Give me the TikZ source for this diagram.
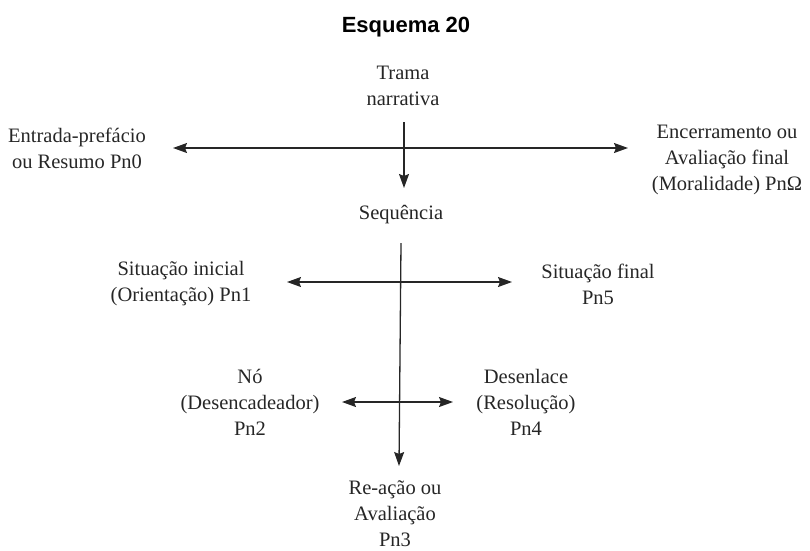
\documentclass[tikz,border=0pt]{standalone}
\usepackage{fontspec}
\setmainfont{Liberation Serif}
\newfontfamily\titlefont{Liberation Sans}
\usetikzlibrary{arrows.meta}
\begin{document}
\begin{tikzpicture}[x=1pt,y=-1pt,
  lbl/.style={align=center,inner sep=0pt,font=\fontsize{20.5}{26}\selectfont,text=black!85},
  conn/.style={line width=1.3pt,black!85},
  tip/.style={-{Stealth[length=14pt,width=10pt,inset=2pt]}},
  tips/.style={{Stealth[length=14pt,width=10pt,inset=2pt]}-{Stealth[length=14pt,width=10pt,inset=2pt]}}]
\useasboundingbox (0,0) rectangle (810,550);
\node (title) at (406,27) {\titlefont\bfseries\fontsize{22}{26}\selectfont Esquema 20};
\node[lbl] (trama) at (403,86) {Trama\\narrativa};
\node[lbl] (entrada) at (77,148) {Entrada-prefácio\\ou Resumo Pn0};
\node[lbl] (encerr) at (727,160) {Encerramento ou\\Avaliação final\\(Moralidade) PnΩ};
\node[lbl] (seq) at (401,215) {Sequência};
\node[lbl] (sitini) at (181,284) {Situação inicial\\(Orientação) Pn1};
\node[lbl] (sitfin) at (598,284) {Situação final\\Pn5};
\node[lbl] (no) at (250,402) {Nó\\(Desencadeador)\\Pn2};
\node[lbl] (desen) at (526,402) {Desenlace\\(Resolução)\\Pn4};
\node[lbl] (reacao) at (395,514) {Re-ação ou\\Avaliação\\Pn3};
% connector end points
\coordinate (v1a) at (404,122);
\coordinate (v1b) at (404,188);
\coordinate (h1a) at (173,148);
\coordinate (h1b) at (628,148);
\coordinate (v2a) at (401,243);
\coordinate (v2b) at (399,466);
\coordinate (h2a) at (287,282);
\coordinate (h2b) at (512,282);
\coordinate (h3a) at (342,402);
\coordinate (h3b) at (453,402);
\draw[conn,tip] (v1a) -- (v1b);
\draw[conn,tips] (h1a) -- (h1b);
\draw[conn,tip] (v2a) -- (v2b);
\draw[conn,tips] (h2a) -- (h2b);
\draw[conn,tips] (h3a) -- (h3b);
\end{tikzpicture}
\end{document}
